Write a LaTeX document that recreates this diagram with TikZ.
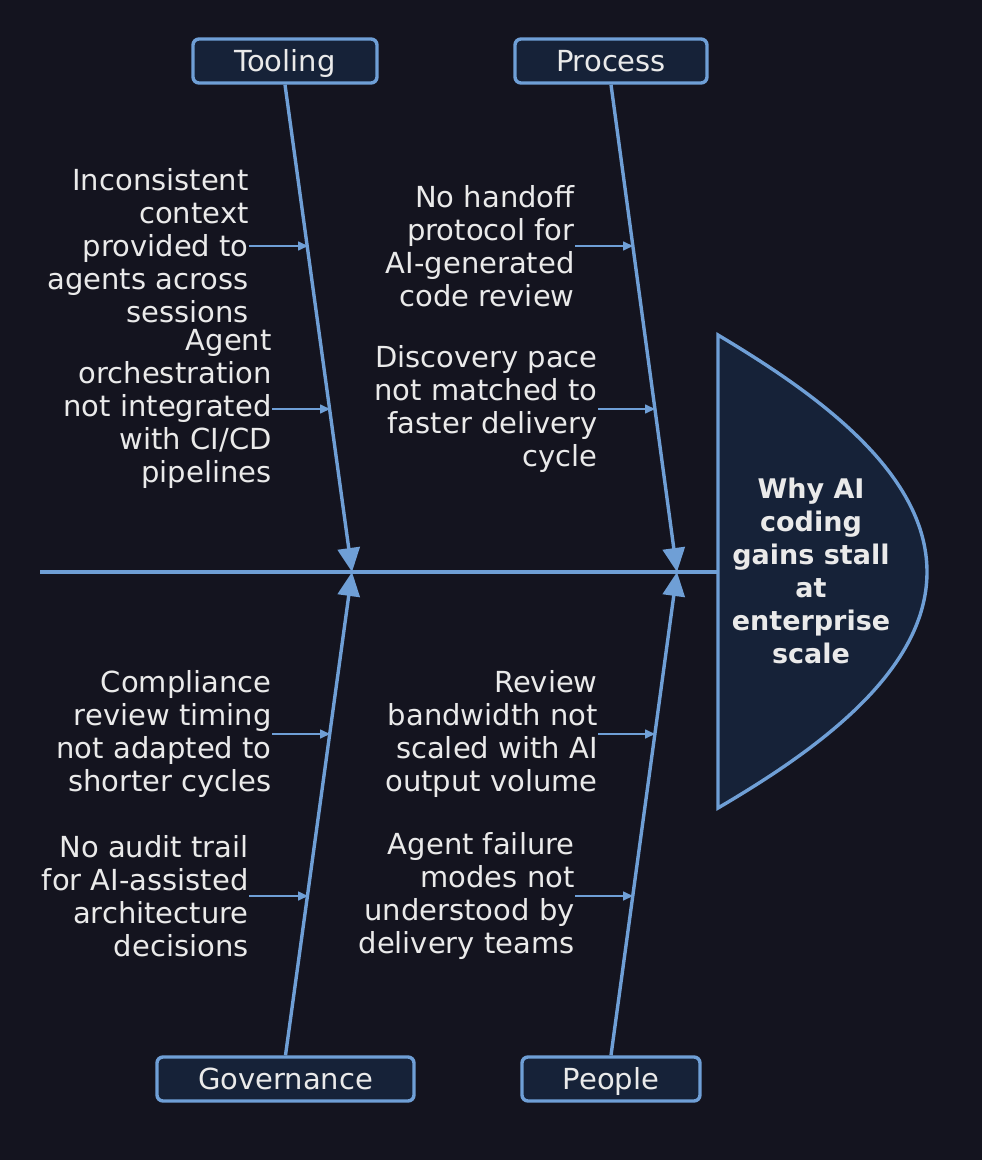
\documentclass[tikz,border=0pt]{standalone}
\usepackage{fontspec}
\setmainfont{DejaVu Sans}
\usetikzlibrary{arrows.meta}
\definecolor{bg}{HTML}{14141F}
\definecolor{boxfill}{HTML}{162238}
\definecolor{edgec}{HTML}{6F9FD6}
\definecolor{txt}{HTML}{EAEAEA}
\tikzset{
  catbox/.style={draw=edgec, line width=1.7pt, fill=boxfill, rounded corners=3pt,
    minimum height=22pt, inner sep=0pt, text=txt, text height=10.6pt, text depth=0pt,
    font={\fontsize{14.5}{16.5}\selectfont}},
  cause/.style={anchor=east, align=right, inner sep=0pt, text=txt,
    font={\fontsize{14.5}{16.5}\selectfont}},
  bone/.style={draw=edgec, line width=1.7pt, -{Triangle[length=12pt,width=11pt]}},
  subarrow/.style={draw=edgec, line width=0.8pt, -{Triangle[length=5pt,width=4.5pt]}},
  headtext/.style={align=center, inner sep=0pt, text=txt,
    font={\fontsize{13.5}{16.5}\selectfont\bfseries}}
}
\begin{document}
\begin{tikzpicture}[x=0.5pt,y=-0.5pt]
\fill[bg] (0,0) rectangle (982,1160);
\useasboundingbox (0,0) rectangle (982,1160);

% spine and head
\coordinate (spinestart) at (40,572);
\coordinate (headleft) at (718,572);
\draw[edgec, line width=1.7pt] (spinestart) -- (headleft);
\draw[edgec, line width=1.7pt, fill=boxfill]
  (718,335) .. controls (810,390) and (927,470) .. (927,572)
  .. controls (927,674) and (810,754) .. (718,808) -- cycle;
\node[headtext] (head) at (811,571) {Why AI\\coding\\gains stall\\at\\enterprise\\scale};

% category boxes
\node[catbox, minimum width=92pt] (tool) at (285,61) {Tooling};
\node[catbox, minimum width=96pt] (proc) at (611,61) {Process};
\node[catbox, minimum width=128.5pt] (gov) at (285.5,1079) {Governance};
\node[catbox, minimum width=89pt] (peop) at (611,1079) {People};

% spine junctions
\coordinate (j1) at (352,572);
\coordinate (j2) at (677,572);

\draw[bone] (tool.south) -- (j1);
\draw[bone] (proc.south) -- (j2);
\draw[bone] (gov.north) -- (j1);
\draw[bone] (peop.north) -- (j2);

% bone points
\coordinate (b1) at (308,246);
\coordinate (b2) at (330,409);
\coordinate (b3) at (633,246);
\coordinate (b4) at (655,409);
\coordinate (b5) at (330,734);
\coordinate (b6) at (308,896);
\coordinate (b7) at (655,734);
\coordinate (b8) at (633,896);

% causes
\node[cause] (c1) at (249,246) {Inconsistent\\context\\provided to\\agents across\\sessions};
\node[cause] (c2) at (272,409) {Agent\\orchestration\\not integrated\\with CI/CD\\pipelines};
\node[cause] (c3) at (575,246) {No handoff\\protocol for\\AI-generated\\code review};
\node[cause] (c4) at (598,409) {Discovery pace\\not matched to\\faster delivery\\cycle};
\node[cause] (c5) at (272,734) {Compliance\\review timing\\not adapted to\\shorter cycles};
\node[cause] (c6) at (249,896) {No audit trail\\for AI-assisted\\architecture\\decisions};
\node[cause] (c7) at (598,734) {Review\\bandwidth not\\scaled with AI\\output volume};
\node[cause] (c8) at (575,896) {Agent failure\\modes not\\understood by\\delivery teams};

\draw[subarrow] (c1.east) -- (b1);
\draw[subarrow] (c2.east) -- (b2);
\draw[subarrow] (c3.east) -- (b3);
\draw[subarrow] (c4.east) -- (b4);
\draw[subarrow] (c5.east) -- (b5);
\draw[subarrow] (c6.east) -- (b6);
\draw[subarrow] (c7.east) -- (b7);
\draw[subarrow] (c8.east) -- (b8);
\end{tikzpicture}
\end{document}
